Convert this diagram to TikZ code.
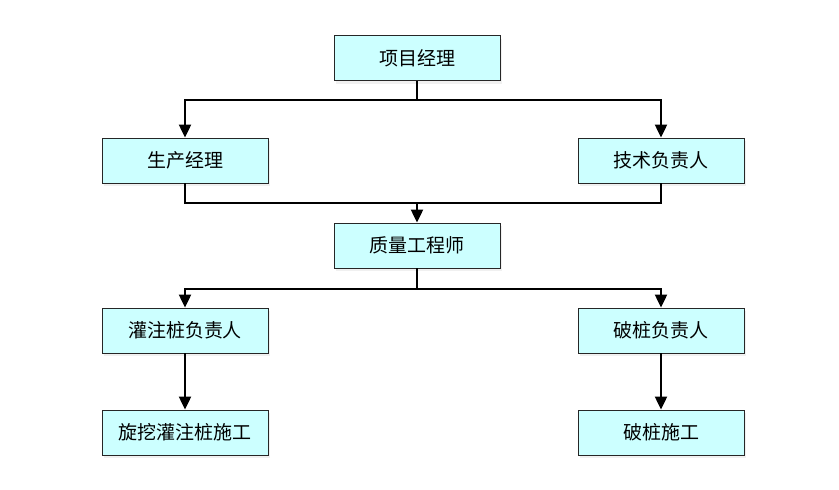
\documentclass[tikz,border=0pt]{standalone}
\usepackage{fontspec}
\setmainfont{Noto Sans CJK SC}
\usetikzlibrary{arrows.meta,shadows}
\definecolor{boxfill}{RGB}{204,255,255}
\begin{document}
\begin{tikzpicture}[x=1pt,y=-1pt,
  box/.style={draw=black!85,line width=0.8pt,fill=boxfill,minimum width=166pt,minimum height=45pt,inner sep=0pt,font=\fontsize{19}{22}\selectfont,drop shadow={opacity=0.12,shadow xshift=2pt,shadow yshift=-3pt}},
  conn/.style={line width=2pt,draw=black},
  arr/.style={conn,-{Triangle[width=12pt,length=13pt]}}]
\useasboundingbox (0,0) rectangle (839,490);
\node[box] (pm) at (417,58) {项目经理};
\node[box] (sc) at (185,160.5) {生产经理};
\node[box] (js) at (661,160.5) {技术负责人};
\node[box] (zl) at (417,245.5) {质量工程师};
\node[box] (gz) at (185,330.5) {灌注桩负责人};
\node[box] (pz) at (661,330.5) {破桩负责人};
\node[box] (xw) at (185,432.5) {旋挖灌注桩施工};
\node[box] (pzs) at (661,432.5) {破桩施工};
\coordinate (j1) at (417,100);
\coordinate (j2) at (417,203);
\coordinate (j3) at (417,289);
\draw[conn] (pm.south) -- (j1);
\draw[arr] (j1) -| (sc.north);
\draw[arr] (j1) -| (js.north);
\draw[conn] (sc.south) |- (j2);
\draw[conn] (js.south) |- (j2);
\draw[arr] (j2) -- (zl.north);
\draw[conn] (zl.south) -- (j3);
\draw[arr] (j3) -| (gz.north);
\draw[arr] (j3) -| (pz.north);
\draw[arr] (gz.south) -- (xw.north);
\draw[arr] (pz.south) -- (pzs.north);
\end{tikzpicture}
\end{document}
